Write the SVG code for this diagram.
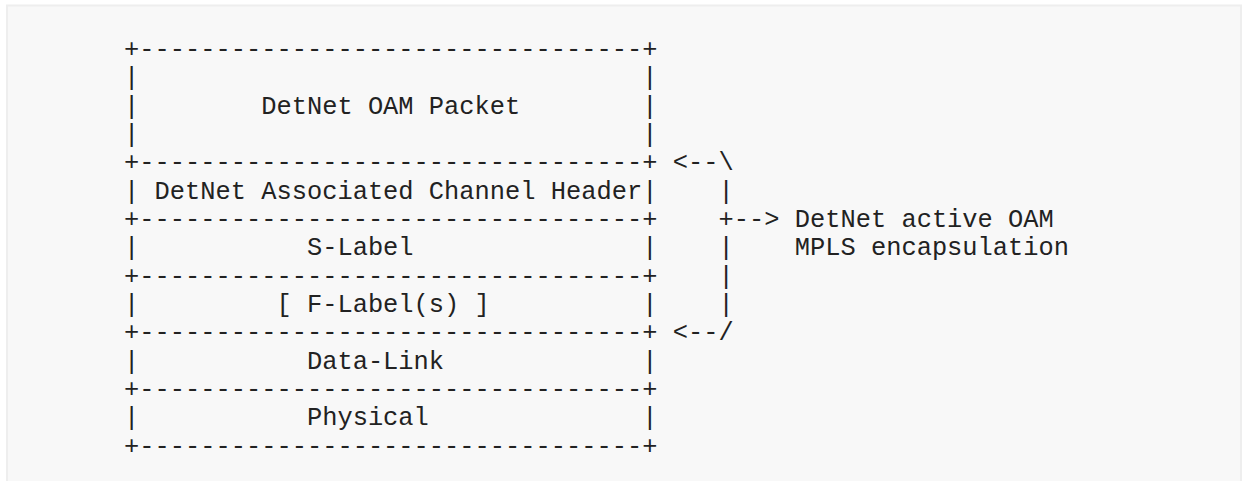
<svg xmlns="http://www.w3.org/2000/svg" width="1242" height="481" viewBox="0 0 1242 481" xml:space="preserve">
<style>
text { font-family: "Liberation Mono", "DejaVu Sans Mono", monospace; font-size: 25.4px; fill: #222222; white-space: pre; }
</style>
<rect x="7" y="5.5" width="1234" height="500" fill="#f8f8f8" stroke="#eeeeee" stroke-width="2"/>
<g id="oam-packet">
<text x="124.1" y="56.9">+---------------------------------+</text>
<text x="124.1" y="85.23">|                                 |</text>
<text x="124.1" y="113.56">|        DetNet OAM Packet        |</text>
<text x="124.1" y="141.89">|                                 |</text>
</g>
<g id="ach-header">
<text x="124.1" y="170.22">+---------------------------------+</text>
<text x="124.1" y="198.55">| DetNet Associated Channel Header|</text>
</g>
<g id="s-label">
<text x="124.1" y="226.88">+---------------------------------+</text>
<text x="124.1" y="255.21">|           S-Label               |</text>
</g>
<g id="f-label">
<text x="124.1" y="283.54">+---------------------------------+</text>
<text x="124.1" y="311.87">|         [ F-Label(s) ]          |</text>
</g>
<g id="data-link">
<text x="124.1" y="340.2">+---------------------------------+</text>
<text x="124.1" y="368.53">|           Data-Link             |</text>
</g>
<g id="physical">
<text x="124.1" y="396.86">+---------------------------------+</text>
<text x="124.1" y="425.19">|           Physical              |</text>
<text x="124.1" y="453.52">+---------------------------------+</text>
</g>
<g id="connectors">
<text x="672.81" y="170.22">&lt;--\</text>
<text x="718.54" y="198.55">|</text>
<text x="718.54" y="226.88">+--&gt;</text>
<text x="718.54" y="255.21">|</text>
<text x="718.54" y="283.54">|</text>
<text x="718.54" y="311.87">|</text>
<text x="672.81" y="340.2">&lt;--/</text>
</g>
<g id="mpls-encapsulation-label">
<text x="794.75" y="226.88">DetNet active OAM</text>
<text x="794.75" y="255.21">MPLS encapsulation</text>
</g>
</svg>
